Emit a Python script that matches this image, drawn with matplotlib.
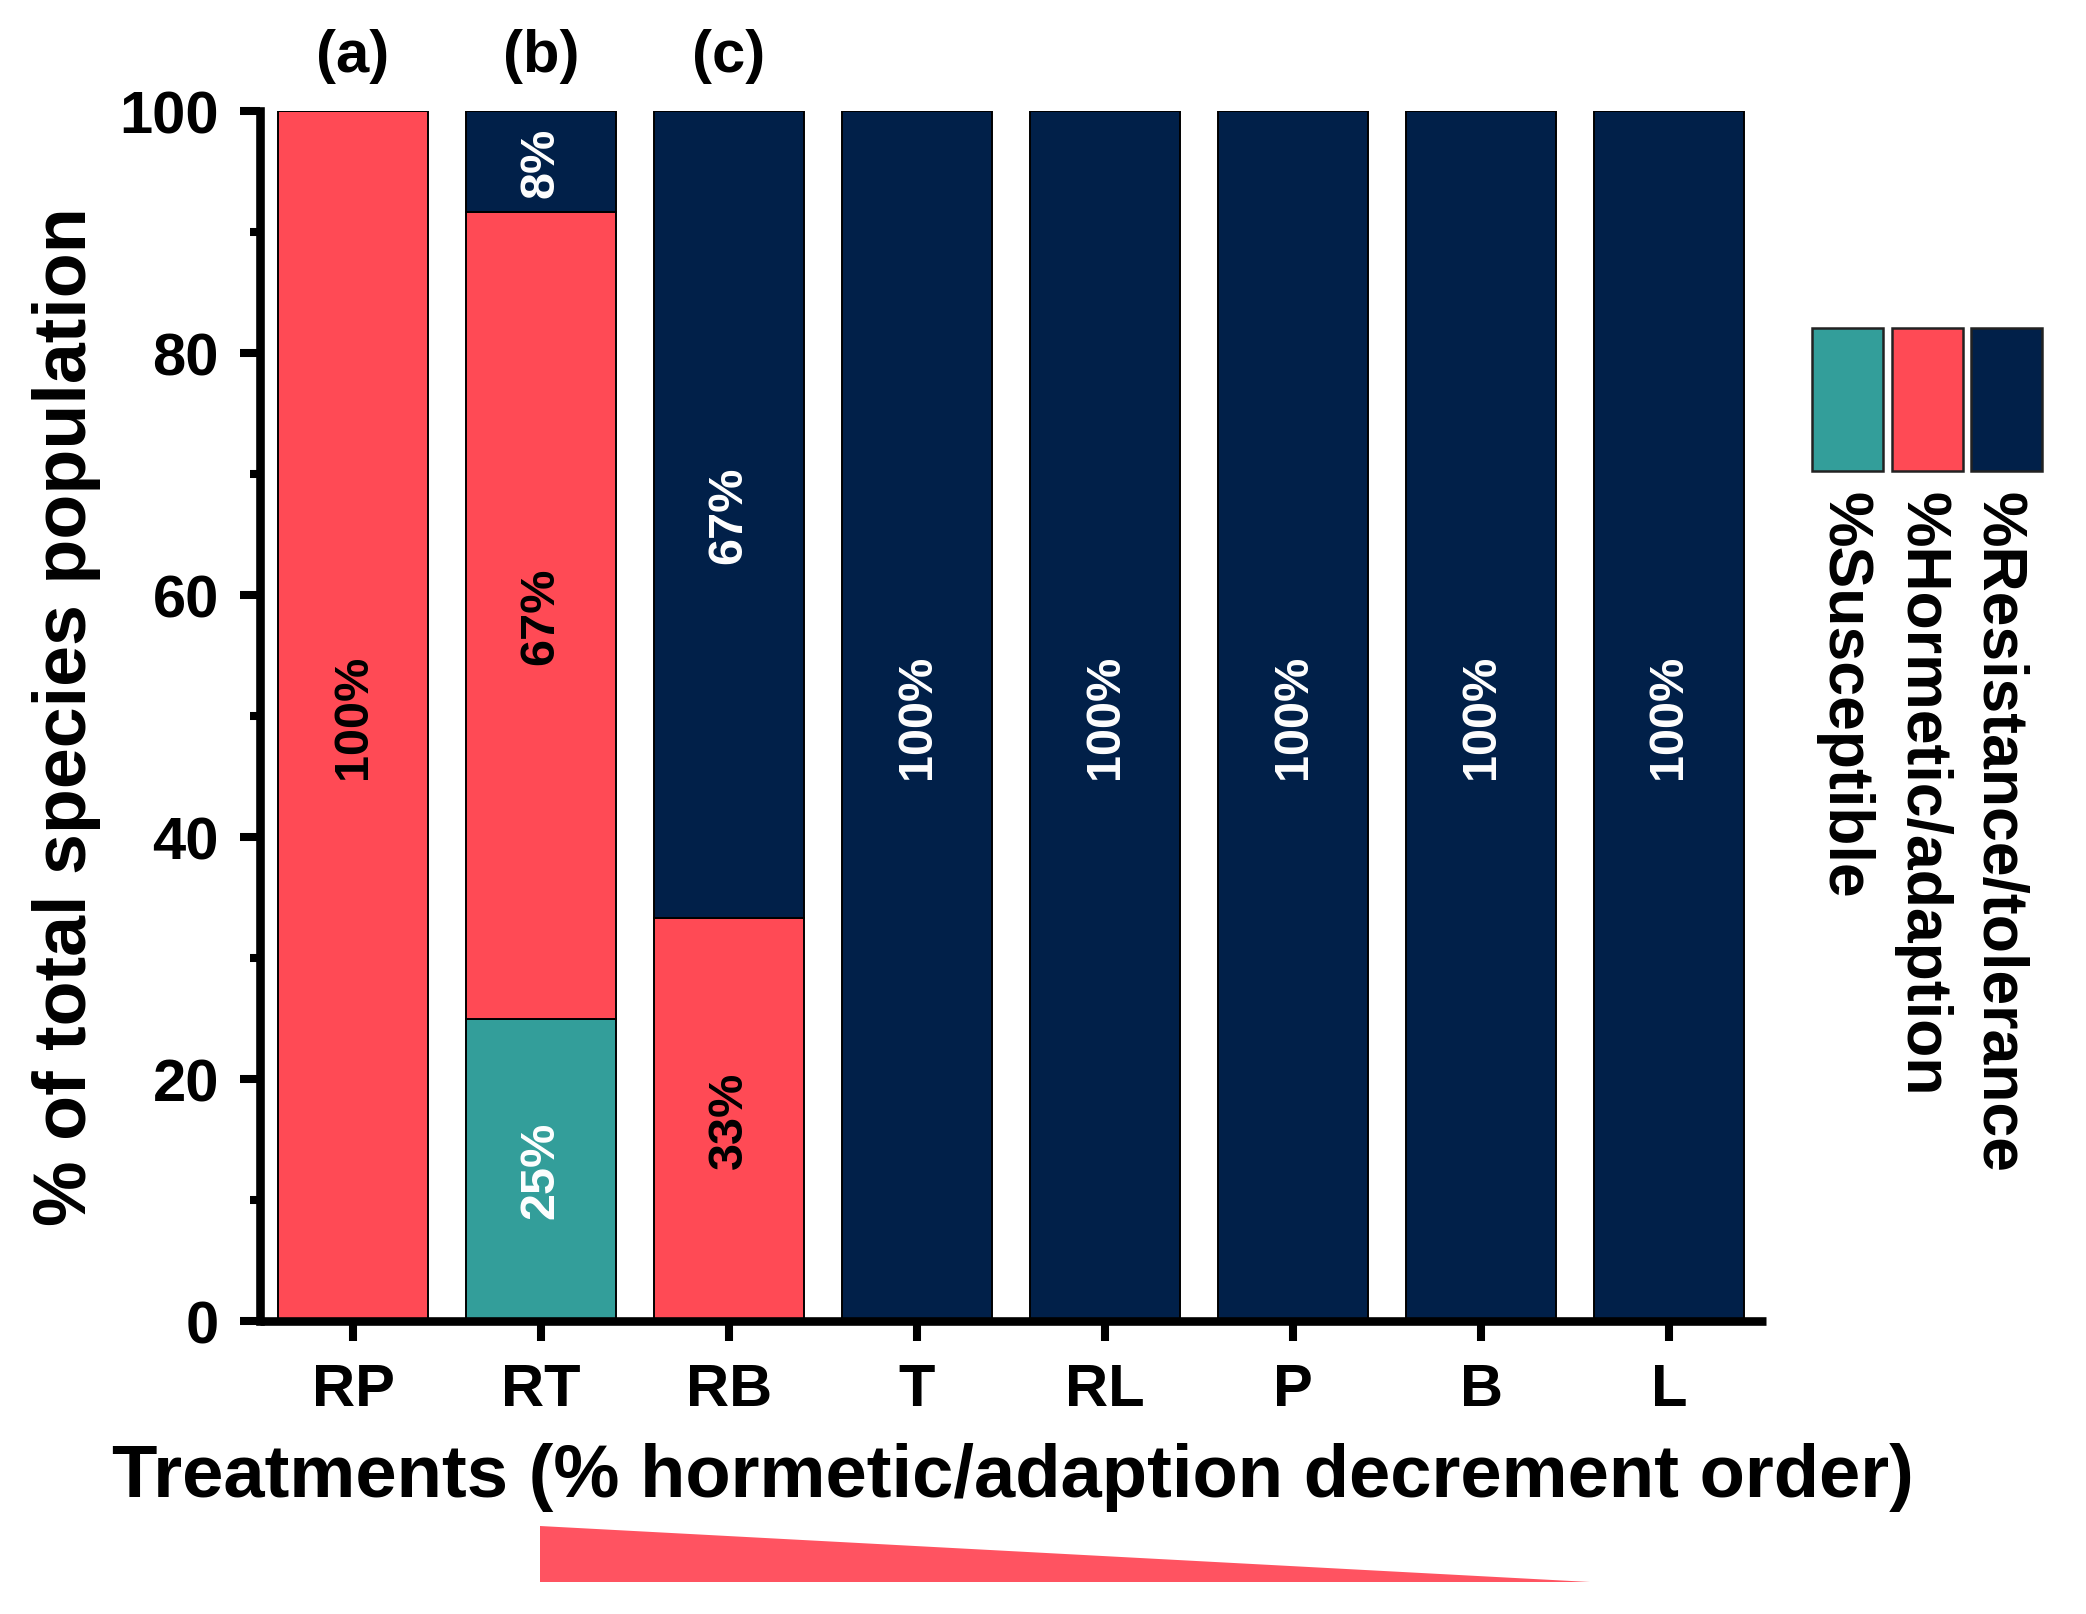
import matplotlib
matplotlib.use("Agg")
import matplotlib.pyplot as plt
from matplotlib.patches import Rectangle, Polygon
import numpy as np

# ---------------- data ----------------
treatments = ['RP', 'RT', 'RB', 'T', 'RL', 'P', 'B', 'L']
susceptible = [0, 25, 0, 0, 0, 0, 0, 0]
hormetic = [100, 66.67, 33.33, 0, 0, 0, 0, 0]
resistance = [0, 8.33, 66.67, 100, 100, 100, 100, 100]
group_letters = ['(a)', '(b)', '(c)']
series_names = ['%Susceptible', '%Hormetic/adaption', '%Resistance/tolerance']

# ---------------- style ----------------
C_SUS = '#339E9A'
C_HOR = '#FF4A55'
C_RES = '#012049'
TEXT_ON = {C_SUS: 'white', C_HOR: 'black', C_RES: 'white'}
FONT = ['Liberation Sans', 'Arial', 'DejaVu Sans']
plt.rcParams['font.family'] = FONT
plt.rcParams['font.weight'] = 'bold'

W, H = 2086, 1615
DPI = 100
fig = plt.figure(figsize=(W / DPI, H / DPI), dpi=DPI)

x0, x1 = 260, 1766
y0, y1 = 1322, 112
ax = fig.add_axes([x0 / W, 1 - y0 / H, (x1 - x0) / W, (y0 - y1) / H])

x = np.arange(len(treatments))
width = 0.80
bottom = np.zeros(len(treatments))
for vals, col in [(susceptible, C_SUS), (hormetic, C_HOR), (resistance, C_RES)]:
    vals = np.array(vals, dtype=float)
    ax.bar(x, vals, width, bottom=bottom, color=col, edgecolor='black',
           linewidth=1.4, zorder=2)
    for i, v in enumerate(vals):
        if v > 0:
            ax.text(x[i], bottom[i] + v / 2, f"{round(v)}%", rotation=90,
                    ha='center', va='center', fontsize=35, fontweight='bold',
                    color=TEXT_ON[col], zorder=3)
    bottom += vals

ax.set_xlim(-0.495, 7.516)
ax.set_ylim(0, 100)
ax.set_xticks(x)
ax.set_xticklabels(treatments)
ax.set_yticks([0, 20, 40, 60, 80, 100])
ax.set_yticks([10, 30, 50, 70, 90], minor=True)

for s in ['top', 'right']:
    ax.spines[s].set_visible(False)
for s in ['left', 'bottom']:
    ax.spines[s].set_linewidth(6.2)
    ax.spines[s].set_zorder(5)
ax.spines['left'].set_capstyle('projecting')
ax.spines['bottom'].set_capstyle('butt')

ax.tick_params(axis='both', which='major', direction='out', length=14.5,
               width=5.8, labelsize=43, pad=15)
ax.tick_params(axis='y', which='minor', direction='out', length=7, width=5.8)
ax.tick_params(axis='x', which='minor', bottom=False)
ax.tick_params(axis='x', which='major', pad=15)
for lab in ax.get_xticklabels() + ax.get_yticklabels():
    lab.set_fontweight('bold')

ax.set_ylabel('% of total species population', fontsize=53, fontweight='bold')
ax.yaxis.set_label_coords((101 - x0) / (x1 - x0), 0.5)
ax.set_xlabel('Treatments (% hormetic/adaption decrement order)', fontsize=53.5,
              fontweight='bold')
ax.xaxis.label.set_verticalalignment('baseline')
ax.xaxis.set_label_coords(0.5, (y0 - 1497) / (y0 - y1))

# group letters above first bars
for i, t in enumerate(group_letters):
    ax.text(x[i], 104.6, t, ha='center', va='center', fontsize=43,
            fontweight='bold', clip_on=False)

# legend (manual, rotated labels)
sq_left = [1812, 1892, 1971]
sq_w = 71
sq_top, sq_bot = 329, 472
baselines = [1827, 1905, 1982]
for col, name, sl, bl in zip([C_SUS, C_HOR, C_RES], series_names, sq_left, baselines):
    fig.patches.append(Rectangle((sl / W, 1 - sq_bot / H), sq_w / W,
                                 (sq_bot - sq_top) / H, transform=fig.transFigure,
                                 facecolor=col, edgecolor='#222222', linewidth=1.8))
    fig.text(bl / W, 1 - 492 / H, name, rotation=-90, rotation_mode='anchor',
             ha='left', va='baseline', fontsize=45, fontweight='bold')

# decreasing wedge below the axis title
fig.patches.append(Polygon([(540 / W, 1 - 1527 / H), (540 / W, 1 - 1583 / H),
                            (1590 / W, 1 - 1583 / H)], closed=True,
                           transform=fig.transFigure, facecolor='#FF5361',
                           edgecolor='none'))

fig.savefig('out.png', dpi=DPI)
